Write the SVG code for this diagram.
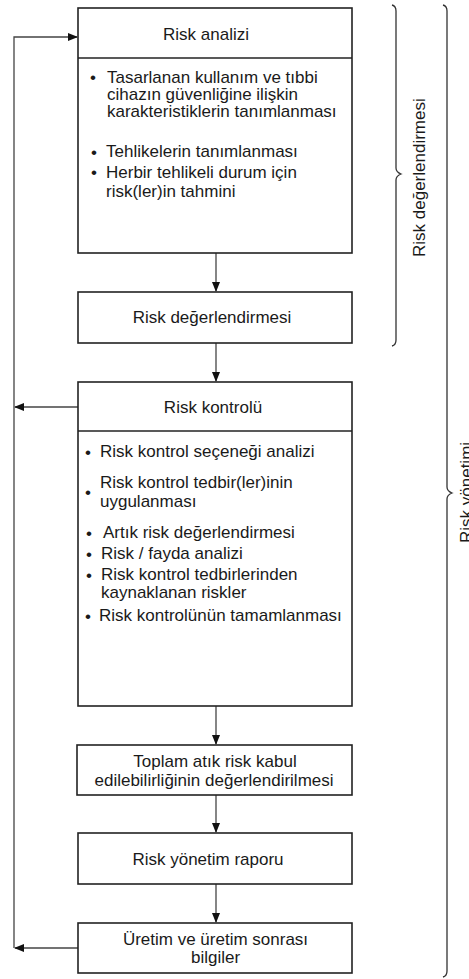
<svg xmlns="http://www.w3.org/2000/svg" width="469" height="979" viewBox="0 0 469 979">
<style>
.box{fill:#fff;stroke:#222;stroke-width:1.6}
.div{stroke:#222;stroke-width:1.6}
.t{font-family:"Liberation Sans",Arial,sans-serif;font-size:17px;fill:#1a1a1a}
.c{text-anchor:middle}
.con{fill:none;stroke:#444;stroke-width:1.3}
.br{fill:none;stroke:#333;stroke-width:1.3}
</style>
<defs>
<marker id="ah" markerWidth="10" markerHeight="8" refX="9" refY="4" orient="auto" markerUnits="userSpaceOnUse">
<path d="M0,0 L10,4 L0,8 Z" fill="#111"/>
</marker>
</defs>

<g id="connectors">
<line class="con" x1="216" y1="253" x2="216" y2="291" marker-end="url(#ah)"/>
<line class="con" x1="216" y1="343" x2="216" y2="381" marker-end="url(#ah)"/>
<line class="con" x1="216" y1="706" x2="216" y2="744" marker-end="url(#ah)"/>
<line class="con" x1="216" y1="795" x2="216" y2="832" marker-end="url(#ah)"/>
<line class="con" x1="216" y1="884" x2="216" y2="922" marker-end="url(#ah)"/>
<line class="con" x1="78" y1="407" x2="15" y2="407" marker-end="url(#ah)"/>
<line class="con" x1="78" y1="948" x2="15" y2="948" marker-end="url(#ah)"/>
<polyline class="con" points="14,948 14,37 77,37" marker-end="url(#ah)"/>
</g>

<g id="risk-analizi">
<rect class="box" x="78" y="8" width="274" height="245"/>
<line class="div" x1="78" y1="58" x2="352" y2="58"/>
<text class="t c" x="206" y="40">Risk analizi</text>
<text class="t" x="90" y="83">•</text>
<text class="t" x="107" y="83">Tasarlanan kullanım ve tıbbi</text>
<text class="t" x="107" y="100">cihazın güvenliğine ilişkin</text>
<text class="t" x="107" y="117">karakteristiklerin tanımlanması</text>
<text class="t" x="91" y="158">•</text>
<text class="t" x="106" y="157">Tehlikelerin tanımlanması</text>
<text class="t" x="91" y="178">•</text>
<text class="t" x="106" y="178">Herbir tehlikeli durum için</text>
<text class="t" x="106" y="197">risk(ler)in tahmini</text>
</g>

<g id="risk-degerlendirmesi">
<rect class="box" x="78" y="292" width="274" height="51"/>
<text class="t c" x="212" y="323">Risk değerlendirmesi</text>
</g>

<g id="risk-kontrolu">
<rect class="box" x="78" y="382" width="274" height="324"/>
<line class="div" x1="78" y1="431" x2="352" y2="431"/>
<text class="t c" x="213" y="413">Risk kontrolü</text>
<text class="t" x="85" y="458">•</text>
<text class="t" x="100" y="457">Risk kontrol seçeneği analizi</text>
<text class="t" x="85" y="498">•</text>
<text class="t" x="100" y="488">Risk kontrol tedbir(ler)inin</text>
<text class="t" x="100" y="507">uygulanması</text>
<text class="t" x="86" y="539">•</text>
<text class="t" x="103" y="538">Artık risk değerlendirmesi</text>
<text class="t" x="86" y="560">•</text>
<text class="t" x="101" y="559">Risk / fayda analizi</text>
<text class="t" x="86" y="581">•</text>
<text class="t" x="101" y="580">Risk kontrol tedbirlerinden</text>
<text class="t" x="101" y="598">kaynaklanan riskler</text>
<text class="t" x="85" y="622">•</text>
<text class="t" x="99" y="621">Risk kontrolünün tamamlanması</text>
</g>

<g id="toplam-atik-risk">
<rect class="box" x="77" y="745" width="275" height="50"/>
<text class="t c" x="215" y="767">Toplam atık risk kabul</text>
<text class="t c" x="214" y="786">edilebilirliğinin değerlendirilmesi</text>
</g>

<g id="risk-yonetim-raporu">
<rect class="box" x="78" y="833" width="274" height="51"/>
<text class="t c" x="208" y="865">Risk yönetim raporu</text>
</g>

<g id="uretim">
<rect class="box" x="78" y="923" width="274" height="50"/>
<text class="t c" x="215.5" y="945">Üretim ve üretim sonrası</text>
<text class="t c" x="215.5" y="963">bilgiler</text>
</g>

<g id="bracket-risk-degerlendirmesi">
<path class="br" d="M392,5 Q396,6 396,11 L396,168 Q396,172 401,174 Q396,176 396,180 L396,340 Q396,345 392,346"/>
<text class="t" transform="translate(425,257) rotate(-90)">Risk değerlendirmesi</text>
</g>

<g id="bracket-risk-yonetimi">
<path class="br" d="M443,5 Q447,6 447,11 L447,487 Q447,491 452,493 Q447,495 447,499 L447,971 Q447,976 443,977"/>
<text class="t" transform="translate(472,543) rotate(-90)">Risk yönetimi</text>
</g>
</svg>
